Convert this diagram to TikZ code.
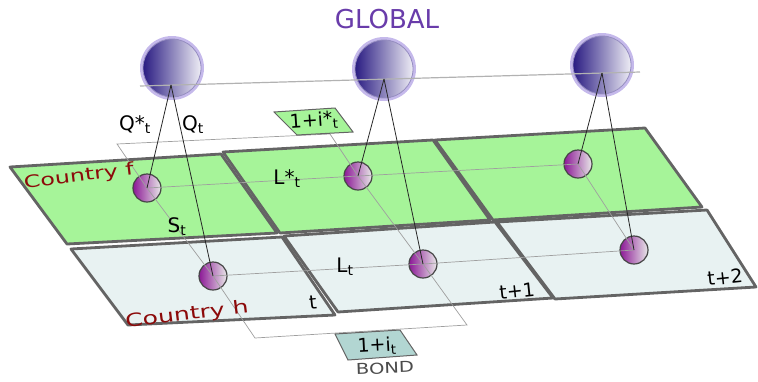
\documentclass[tikz,border=0pt]{standalone}
\usepackage{fontspec}
\setmainfont{DejaVu Sans}
\definecolor{globgreen}{RGB}{166,244,153}
\definecolor{globpale}{RGB}{232,242,242}
\definecolor{globedge}{RGB}{100,100,100}
\definecolor{globnavy}{RGB}{42,28,130}
\definecolor{globhalo}{RGB}{110,80,205}
\definecolor{globviolet}{RGB}{140,25,150}
\definecolor{globtitle}{RGB}{105,60,170}
\definecolor{globred}{RGB}{140,10,10}
\definecolor{globbond}{RGB}{178,214,210}

\begin{document}
\begin{tikzpicture}[x=1pt, y=-1pt,
  panel/.style={draw=globedge, line width=2.8pt, line join=round},
  globe/.style={circle, minimum size=58pt, inner sep=0pt, left color=globnavy, middle color=globnavy!92, right color=globnavy!8, draw=globnavy!50, line width=0.8pt},
  ball/.style={circle, minimum size=28pt, inner sep=0pt, left color=globviolet, right color=gray!18, draw=globedge!70!black, line width=1.2pt},
  thinline/.style={draw=gray!75, line width=0.7pt},
  link/.style={draw=black!85, line width=0.8pt},
  lbl/.style={font=\fontsize{20}{22}\selectfont},
  plane/.style={font=\fontsize{19}{21}\selectfont, rotate=6},
  bondbox/.style={draw=globedge, line width=1pt}
]
\useasboundingbox (0,0) rectangle (758,381);

% country panels
\foreach \a/\b/\c/\d in {{10,167}/{221,154}/{277,233}/{67,244},
                         {223,152}/{433,140}/{490,220}/{280,233},
                         {435,140}/{645,128}/{702,207}/{493,220}}
  \filldraw[panel, fill=globgreen] (\a) -- (\b) -- (\c) -- (\d) -- cycle;
\foreach \a/\b/\c/\d in {{71,249}/{282,237}/{335,315}/{128,325},
                         {284,236}/{495,222}/{553,298}/{338,312},
                         {497,222}/{707,210}/{756,287}/{555,299}}
  \filldraw[panel, fill=globpale] (\a) -- (\b) -- (\c) -- (\d) -- cycle;

\node[font=\fontsize{26}{28}\selectfont, text=globtitle] (title) at (387,19) {GLOBAL};

% global spheres
\foreach \i/\p in {1/{172,68}, 2/{384,69}, 3/{602,65}}{
  \fill[globhalo, opacity=0.4] (\p) circle (32);
  \node[globe] (g\i) at (\p) {};
}
\draw[thinline, draw=gray!60, line width=1.2pt] (140,86) -- (640,72);
\coordinate (a1) at (171,85);
\coordinate (a2) at (384,79);
\coordinate (a3) at (602,73);

% country spheres
\foreach \i/\p in {1/{147,188}, 2/{358,176}, 3/{578,164}}
  \node[ball] (f\i) at (\p) {};
\foreach \i/\p in {1/{213,276}, 2/{423,264}, 3/{634,250}}
  \node[ball] (h\i) at (\p) {};

% bond planes
\coordinate (bfa) at (117,144);
\coordinate (bfb) at (330,134);
\coordinate (bha) at (255,338);
\coordinate (bhb) at (467,325);
\draw[thinline] (bfa) -- (f1.center) -- (h1.center) -- (bha) -- (bhb) -- (h2.center) -- (f2.center) -- (bfb) -- cycle;
\draw[thinline] (f1.center) -- (f2.center) -- (f3.center);
\draw[thinline] (h1.center) -- (h2.center) -- (h3.center);
\draw[thinline] (f3.center) -- (h3.center);

\foreach \i in {1,2,3}{
  \draw[link] (a\i) -- (f\i.center);
  \draw[link] (a\i) -- (h\i.center);
}

\filldraw[bondbox, fill=globgreen] (274,112) -- (335,108) -- (353,132) -- (297,135) -- cycle;
\node[font=\fontsize{19}{21}\selectfont, rotate=4] (rf) at (314,121) {1+i*\textsubscript{t}};
\filldraw[bondbox, fill=globbond] (335,334) -- (400,330) -- (417,355) -- (348,360) -- cycle;
\node[font=\fontsize{19}{21}\selectfont, rotate=3] (rh) at (377,346) {1+i\textsubscript{t}};
\node[font=\fontsize{15}{17}\selectfont, text=black!70, rotate=2, xscale=1.3, transform shape] (bond) at (385,368) {BOND};

\node[lbl] (qf) at (135,125) {Q*\textsubscript{t}};
\node[lbl] (qh) at (193,125) {Q\textsubscript{t}};
\node[lbl] (lf) at (287,179) {L*\textsubscript{t}};
\node[lbl] (st) at (177,227) {S\textsubscript{t}};
\node[lbl] (lh) at (345,267) {L\textsubscript{t}};

\node[font=\fontsize{17}{19}\selectfont, text=globred, rotate=7, xscale=1.4, transform shape] (cf) at (79,177) {Country f};
\node[font=\fontsize{18}{20}\selectfont, text=globred, rotate=7, xscale=1.4, transform shape] (ch) at (187,315) {Country h};
\node[plane] (t0) at (313,302) {t};
\node[plane] (t1) at (517,291) {t+1};
\node[plane] (t2) at (725,277) {t+2};
\end{tikzpicture}
\end{document}
